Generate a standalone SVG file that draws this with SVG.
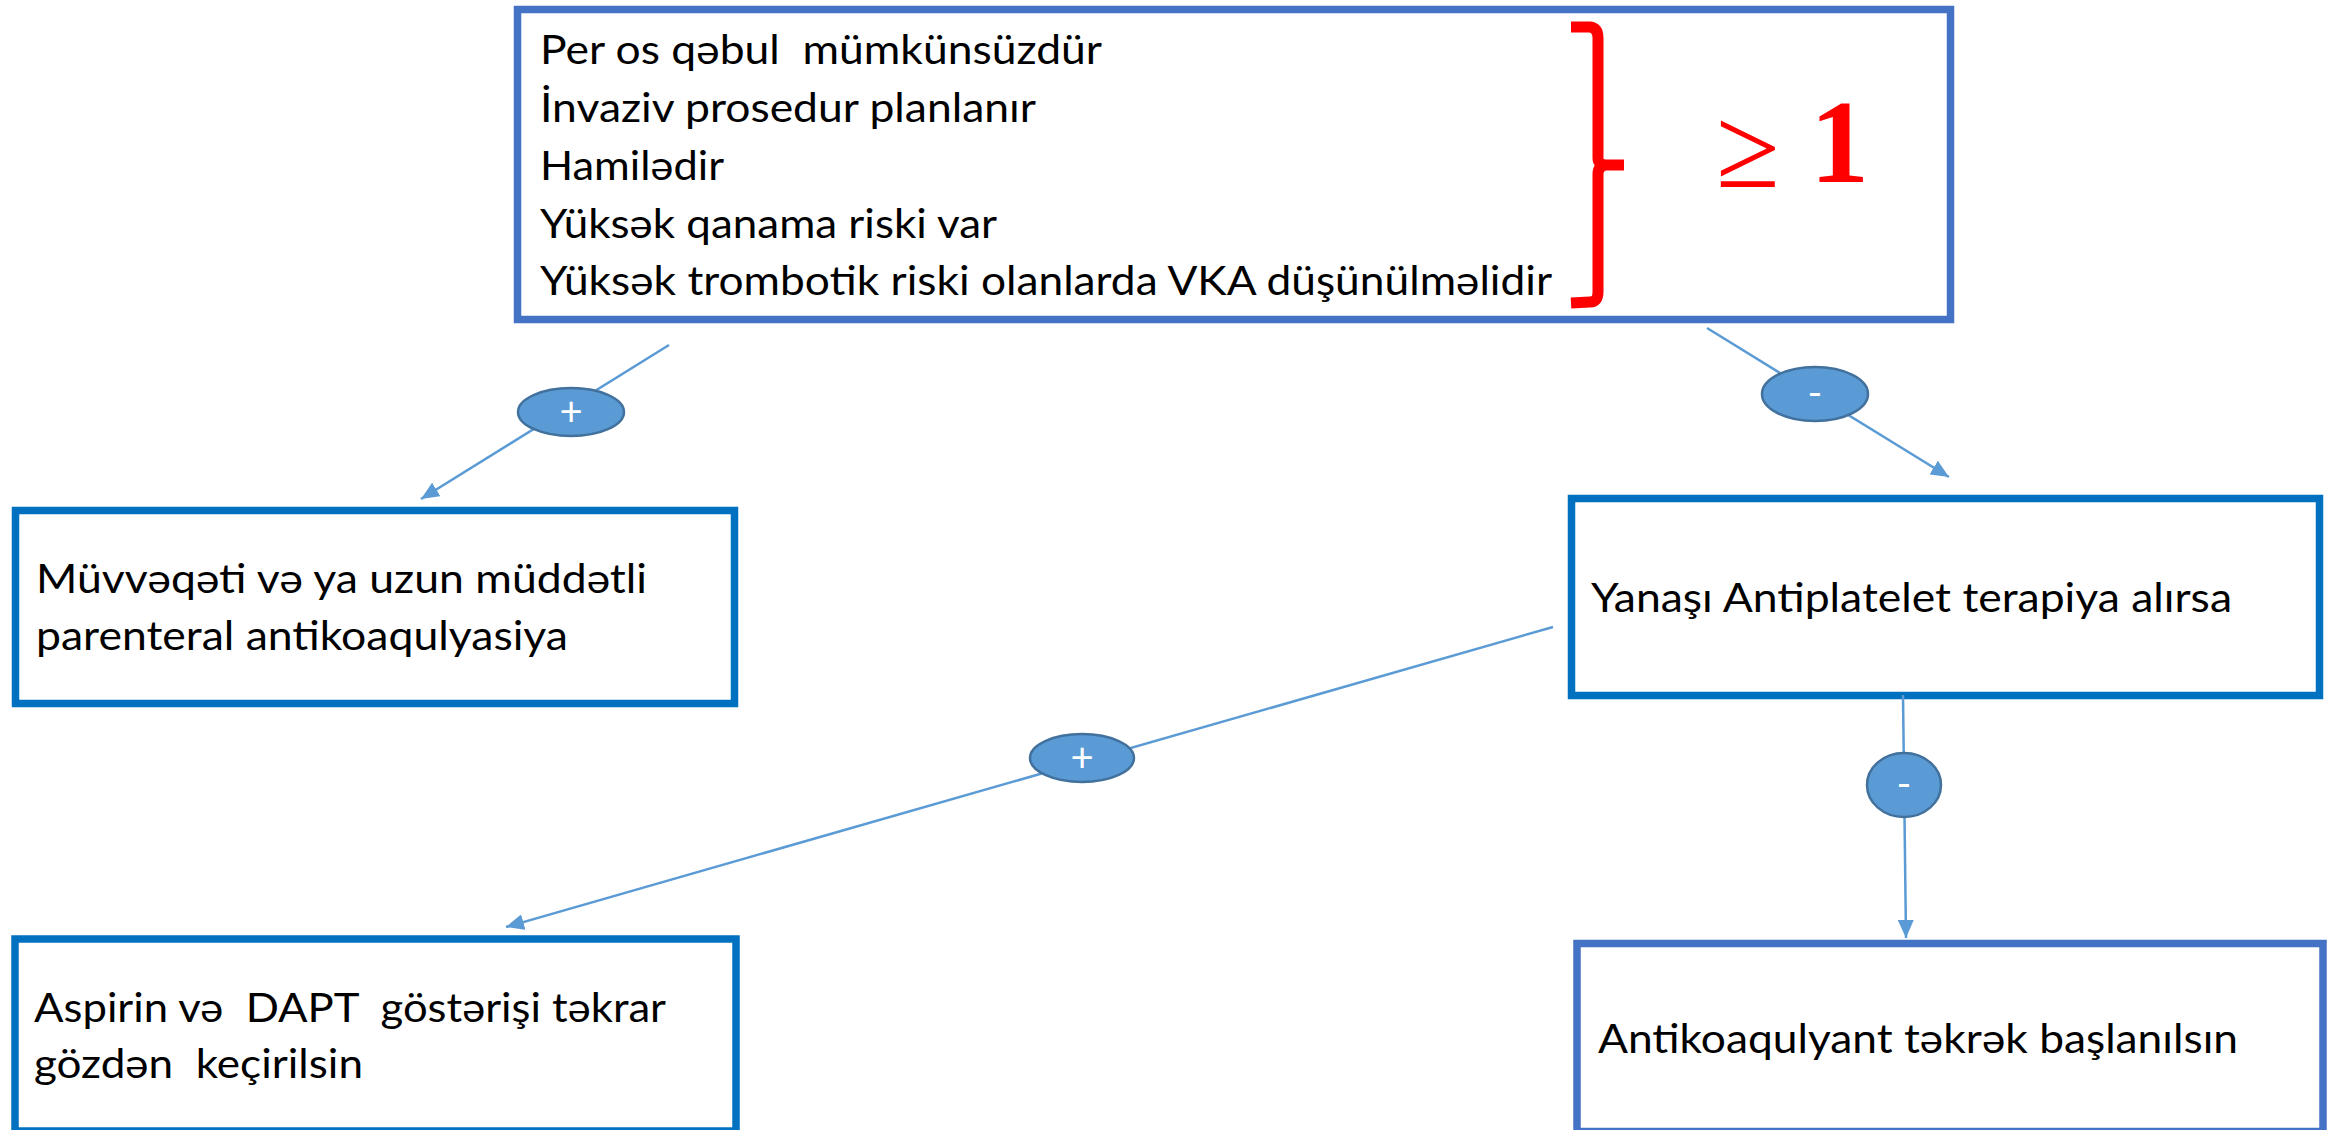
<svg xmlns="http://www.w3.org/2000/svg" width="2333" height="1130" viewBox="0 0 2333 1130">
<defs>
<style>
.box{fill:#FFFFFF;stroke-width:7.5}
.b1{stroke:#4472C4}
.b2{stroke:#0070C0}
.t{font-family:Lato,"Liberation Sans",sans-serif;font-size:40px;fill:#000000;white-space:pre}
.con{stroke:#5B9BD5;stroke-width:2.5;fill:none}
.lab{fill:#5B9BD5;stroke:#41719C;stroke-width:2.5}
.lt{font-family:Lato,"Liberation Sans",sans-serif;font-size:40px;fill:#FFFFFF;text-anchor:middle}
</style>
<marker id="arr" markerUnits="userSpaceOnUse" markerWidth="18" markerHeight="16" refX="18" refY="8" orient="auto">
<path d="M0,0 L18,8 L0,16 z" fill="#5B9BD5"/>
</marker>
</defs>
<rect width="2333" height="1130" fill="#FFFFFF"/>

<g id="node-criteria">
<rect class="box b1" x="517.5" y="9.5" width="1433" height="310"/>
<text class="t" x="540" y="64" textLength="562" lengthAdjust="spacingAndGlyphs">Per os qəbul  mümkünsüzdür</text>
<text class="t" x="540" y="122" textLength="496" lengthAdjust="spacingAndGlyphs">İnvaziv prosedur planlanır</text>
<text class="t" x="540" y="180" textLength="184" lengthAdjust="spacingAndGlyphs">Hamilədir</text>
<text class="t" x="540" y="238" textLength="457" lengthAdjust="spacingAndGlyphs">Yüksək qanama riski var</text>
<text class="t" x="540" y="295" textLength="1012" lengthAdjust="spacingAndGlyphs">Yüksək trombotik riski olanlarda VKA düşünülməlidir</text>
<path d="M1571,27 L1590,27 Q1598,28 1598,38 L1598,158 Q1598,165 1606,165 L1624,165 L1606,165 Q1598,166 1598,174 L1598,292 Q1598,302 1590,302 L1571,303" fill="none" stroke="#FF0000" stroke-width="11" stroke-linejoin="miter"/>
<text x="1716" y="187" font-family="'Liberation Serif',serif" font-size="116" fill="#FF0000">≥</text>
<text x="1810" y="182" font-family="'Liberation Serif',serif" font-size="118" font-weight="bold" fill="#FF0000">1</text>
</g>

<g id="node-parenteral">
<rect class="box b2" x="15.5" y="510.5" width="719" height="193"/>
<text class="t" x="36" y="593" textLength="611" lengthAdjust="spacingAndGlyphs">Müvvəqəti və ya uzun müddətli</text>
<text class="t" x="36" y="650" textLength="532" lengthAdjust="spacingAndGlyphs">parenteral antikoaqulyasiya</text>
</g>

<g id="node-antiplatelet">
<rect class="box b2" x="1571.5" y="498.5" width="748" height="197"/>
<text class="t" x="1591" y="612" textLength="641" lengthAdjust="spacingAndGlyphs">Yanaşı Antiplatelet terapiya alırsa</text>
</g>

<g id="node-aspirin">
<rect class="box b2" x="15" y="939" width="721" height="192"/>
<text class="t" x="34" y="1022" textLength="632" lengthAdjust="spacingAndGlyphs">Aspirin və  DAPT  göstərişi təkrar</text>
<text class="t" x="34" y="1078" textLength="329" lengthAdjust="spacingAndGlyphs">gözdən  keçirilsin</text>
</g>

<g id="node-restart">
<rect class="box b1" x="1577" y="943.5" width="746" height="188"/>
<text class="t" x="1598" y="1053" textLength="640" lengthAdjust="spacingAndGlyphs">Antikoaqulyant təkrək başlanılsın</text>
</g>

<g id="connectors">
<line class="con" x1="669" y1="345" x2="421" y2="499" marker-end="url(#arr)"/>
<line class="con" x1="1707" y1="328" x2="1949" y2="477" marker-end="url(#arr)"/>
<line class="con" x1="1553" y1="627" x2="506" y2="927" marker-end="url(#arr)"/>
<line class="con" x1="1903" y1="695" x2="1906" y2="938" marker-end="url(#arr)"/>
<g id="label-plus-1">
<ellipse class="lab" cx="571" cy="412" rx="53" ry="24"/>
<text class="lt" x="571" y="426">+</text>
</g>
<g id="label-minus-1">
<ellipse class="lab" cx="1815" cy="394" rx="53" ry="27"/>
<text class="lt" x="1815" y="407">-</text>
</g>
<g id="label-plus-2">
<ellipse class="lab" cx="1082" cy="758" rx="52" ry="24"/>
<text class="lt" x="1082" y="772">+</text>
</g>
<g id="label-minus-2">
<ellipse class="lab" cx="1904" cy="785" rx="37" ry="32"/>
<text class="lt" x="1904" y="798">-</text>
</g>
</g>
</svg>
